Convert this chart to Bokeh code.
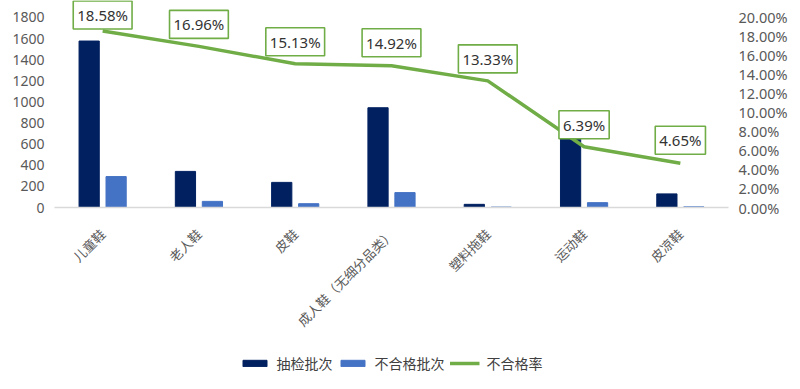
from math import pi
from bokeh.plotting import figure
from bokeh.layouts import column
from bokeh.models import (ColumnDataSource, FactorRange, Range1d, LinearAxis, FixedTicker,
                          NumeralTickFormatter, Legend, LegendItem)
from bokeh.transform import dodge
from bokeh.core.properties import value
from bokeh.embed import file_html
from bokeh.resources import INLINE

# ---- data ----
categories = ["儿童鞋", "老人鞋", "皮鞋", "成人鞋（无细分品类）", "塑料拖鞋", "运动鞋", "皮凉鞋"]
checked = [1577, 342, 238, 945, 30, 720, 129]      # 抽检批次
failed = [293, 58, 36, 141, 4, 46, 6]              # 不合格批次
fail_rate = [0.1858, 0.1696, 0.1513, 0.1492, 0.1333, 0.0639, 0.0465]  # 不合格率
left_ticks = [0, 200, 400, 600, 800, 1000, 1200, 1400, 1600, 1800]
right_ticks = [0.0, 0.02, 0.04, 0.06, 0.08, 0.10, 0.12, 0.14, 0.16, 0.18, 0.20]
series_names = ["抽检批次", "不合格批次", "不合格率"]

rate_labels = [f"{r * 100:.2f}%" for r in fail_rate]
label_offsets = [-16, -22, -22, -23, -22, -22, -23]   # screen px (negative = up)

src = ColumnDataSource(dict(cat=categories, checked=checked, failed=failed,
                            rate=fail_rate, label=rate_labels, off=label_offsets))

Y_END = 1961
R_END = 0.20 * Y_END / 1800

NUM_FONT = "Noto Sans"
CJK_FONT = "Noto Sans CJK SC"
DARK, LIGHT, GREEN = "#002060", "#4472C4", "#70AD47"

W = 796
H1 = 340
H2 = 45


def style_bars(fig, fig_src):
    b1 = fig.vbar(x=dodge("cat", -0.14, range=fig.x_range), top="checked", width=0.21,
                  source=fig_src, fill_color=DARK, line_color=DARK, line_width=1)
    b2 = fig.vbar(x=dodge("cat", 0.14, range=fig.x_range), top="failed", width=0.21,
                  source=fig_src, fill_color=LIGHT, line_color=LIGHT, line_width=1)
    return b1, b2


p = figure(x_range=FactorRange(*categories), y_range=Range1d(0, Y_END),
           width=W, height=H1, output_backend="svg", toolbar_location=None,
           min_border_left=54, min_border_right=68, min_border_top=0, min_border_bottom=H1 - 207,
           outline_line_color=None, background_fill_color="white", border_fill_color="white")
p.extra_y_ranges = {"rate": Range1d(0, R_END)}
p.xgrid.visible = False
p.ygrid.visible = False

style_bars(p, src)
p.line(x="cat", y="rate", y_range_name="rate", source=src,
       line_color=GREEN, line_width=3.5, line_join="round")
p.text(x="cat", y="rate", text="label", y_range_name="rate", source=src,
       y_offset="off", text_align="center", text_baseline="middle",
       text_font=value(NUM_FONT), text_font_size="15px", text_color="#333333",
       padding=4, border_line_color=GREEN, border_line_width=1.6,
       background_fill_color="white")

# left axis
la = p.yaxis[0]
la.ticker = FixedTicker(ticks=left_ticks)
la.axis_line_color = None
la.major_tick_line_color = None
la.minor_tick_line_color = None
la.major_tick_out = 0
la.major_tick_in = 0
la.minor_tick_out = 0
la.major_label_text_font = NUM_FONT
la.major_label_text_font_size = "14px"
la.major_label_text_color = "#595959"
la.major_label_standoff = 10

# right axis
ra = LinearAxis(y_range_name="rate", ticker=FixedTicker(ticks=right_ticks),
                formatter=NumeralTickFormatter(format="0.00%"))
ra.axis_line_color = None
ra.major_tick_line_color = None
ra.minor_tick_line_color = None
ra.major_tick_out = 0
ra.major_tick_in = 0
ra.minor_tick_out = 0
ra.major_label_text_font = NUM_FONT
ra.major_label_text_font_size = "14.5px"
ra.major_label_text_color = "#595959"
ra.major_label_standoff = 10
p.add_layout(ra, "right")

# x axis
xa = p.xaxis[0]
xa.axis_line_color = "#d9d9d9"
xa.axis_line_width = 1.5
xa.major_tick_line_color = None
xa.minor_tick_line_color = None
xa.major_tick_out = 0
xa.major_tick_in = 0
xa.minor_tick_out = 0
xa.major_label_orientation = pi / 4
xa.major_label_text_font = CJK_FONT
xa.major_label_text_font_size = "13px"
xa.major_label_text_color = "#595959"
xa.major_label_standoff = 24

# ---- legend strip (its view range lies above all data, so only the legend shows) ----
q = figure(width=W, height=H2, output_backend="svg", toolbar_location=None,
           x_axis_location=None, y_axis_location=None,
           x_range=p.x_range, y_range=Range1d(100000, 100001),
           min_border=0, outline_line_color=None,
           background_fill_color="white", border_fill_color="white")
q.xgrid.visible = False
q.ygrid.visible = False
k1, k2 = style_bars(q, src)
k3 = q.line(x="cat", y="rate", source=src, line_color=GREEN, line_width=3.5)
legend = Legend(items=[LegendItem(label=series_names[0], renderers=[k1]),
                       LegendItem(label=series_names[1], renderers=[k2]),
                       LegendItem(label=series_names[2], renderers=[k3])],
                orientation="horizontal", location="center",
                glyph_width=30, glyph_height=8, label_standoff=7, spacing=5,
                padding=4, margin=0, border_line_color=None, background_fill_alpha=0,
                label_text_font=CJK_FONT, label_text_font_size="14px",
                label_text_color="#404040")
q.add_layout(legend, "center")

layout = column(p, q, spacing=0)
open("out.html", "w").write(file_html(layout, INLINE))
